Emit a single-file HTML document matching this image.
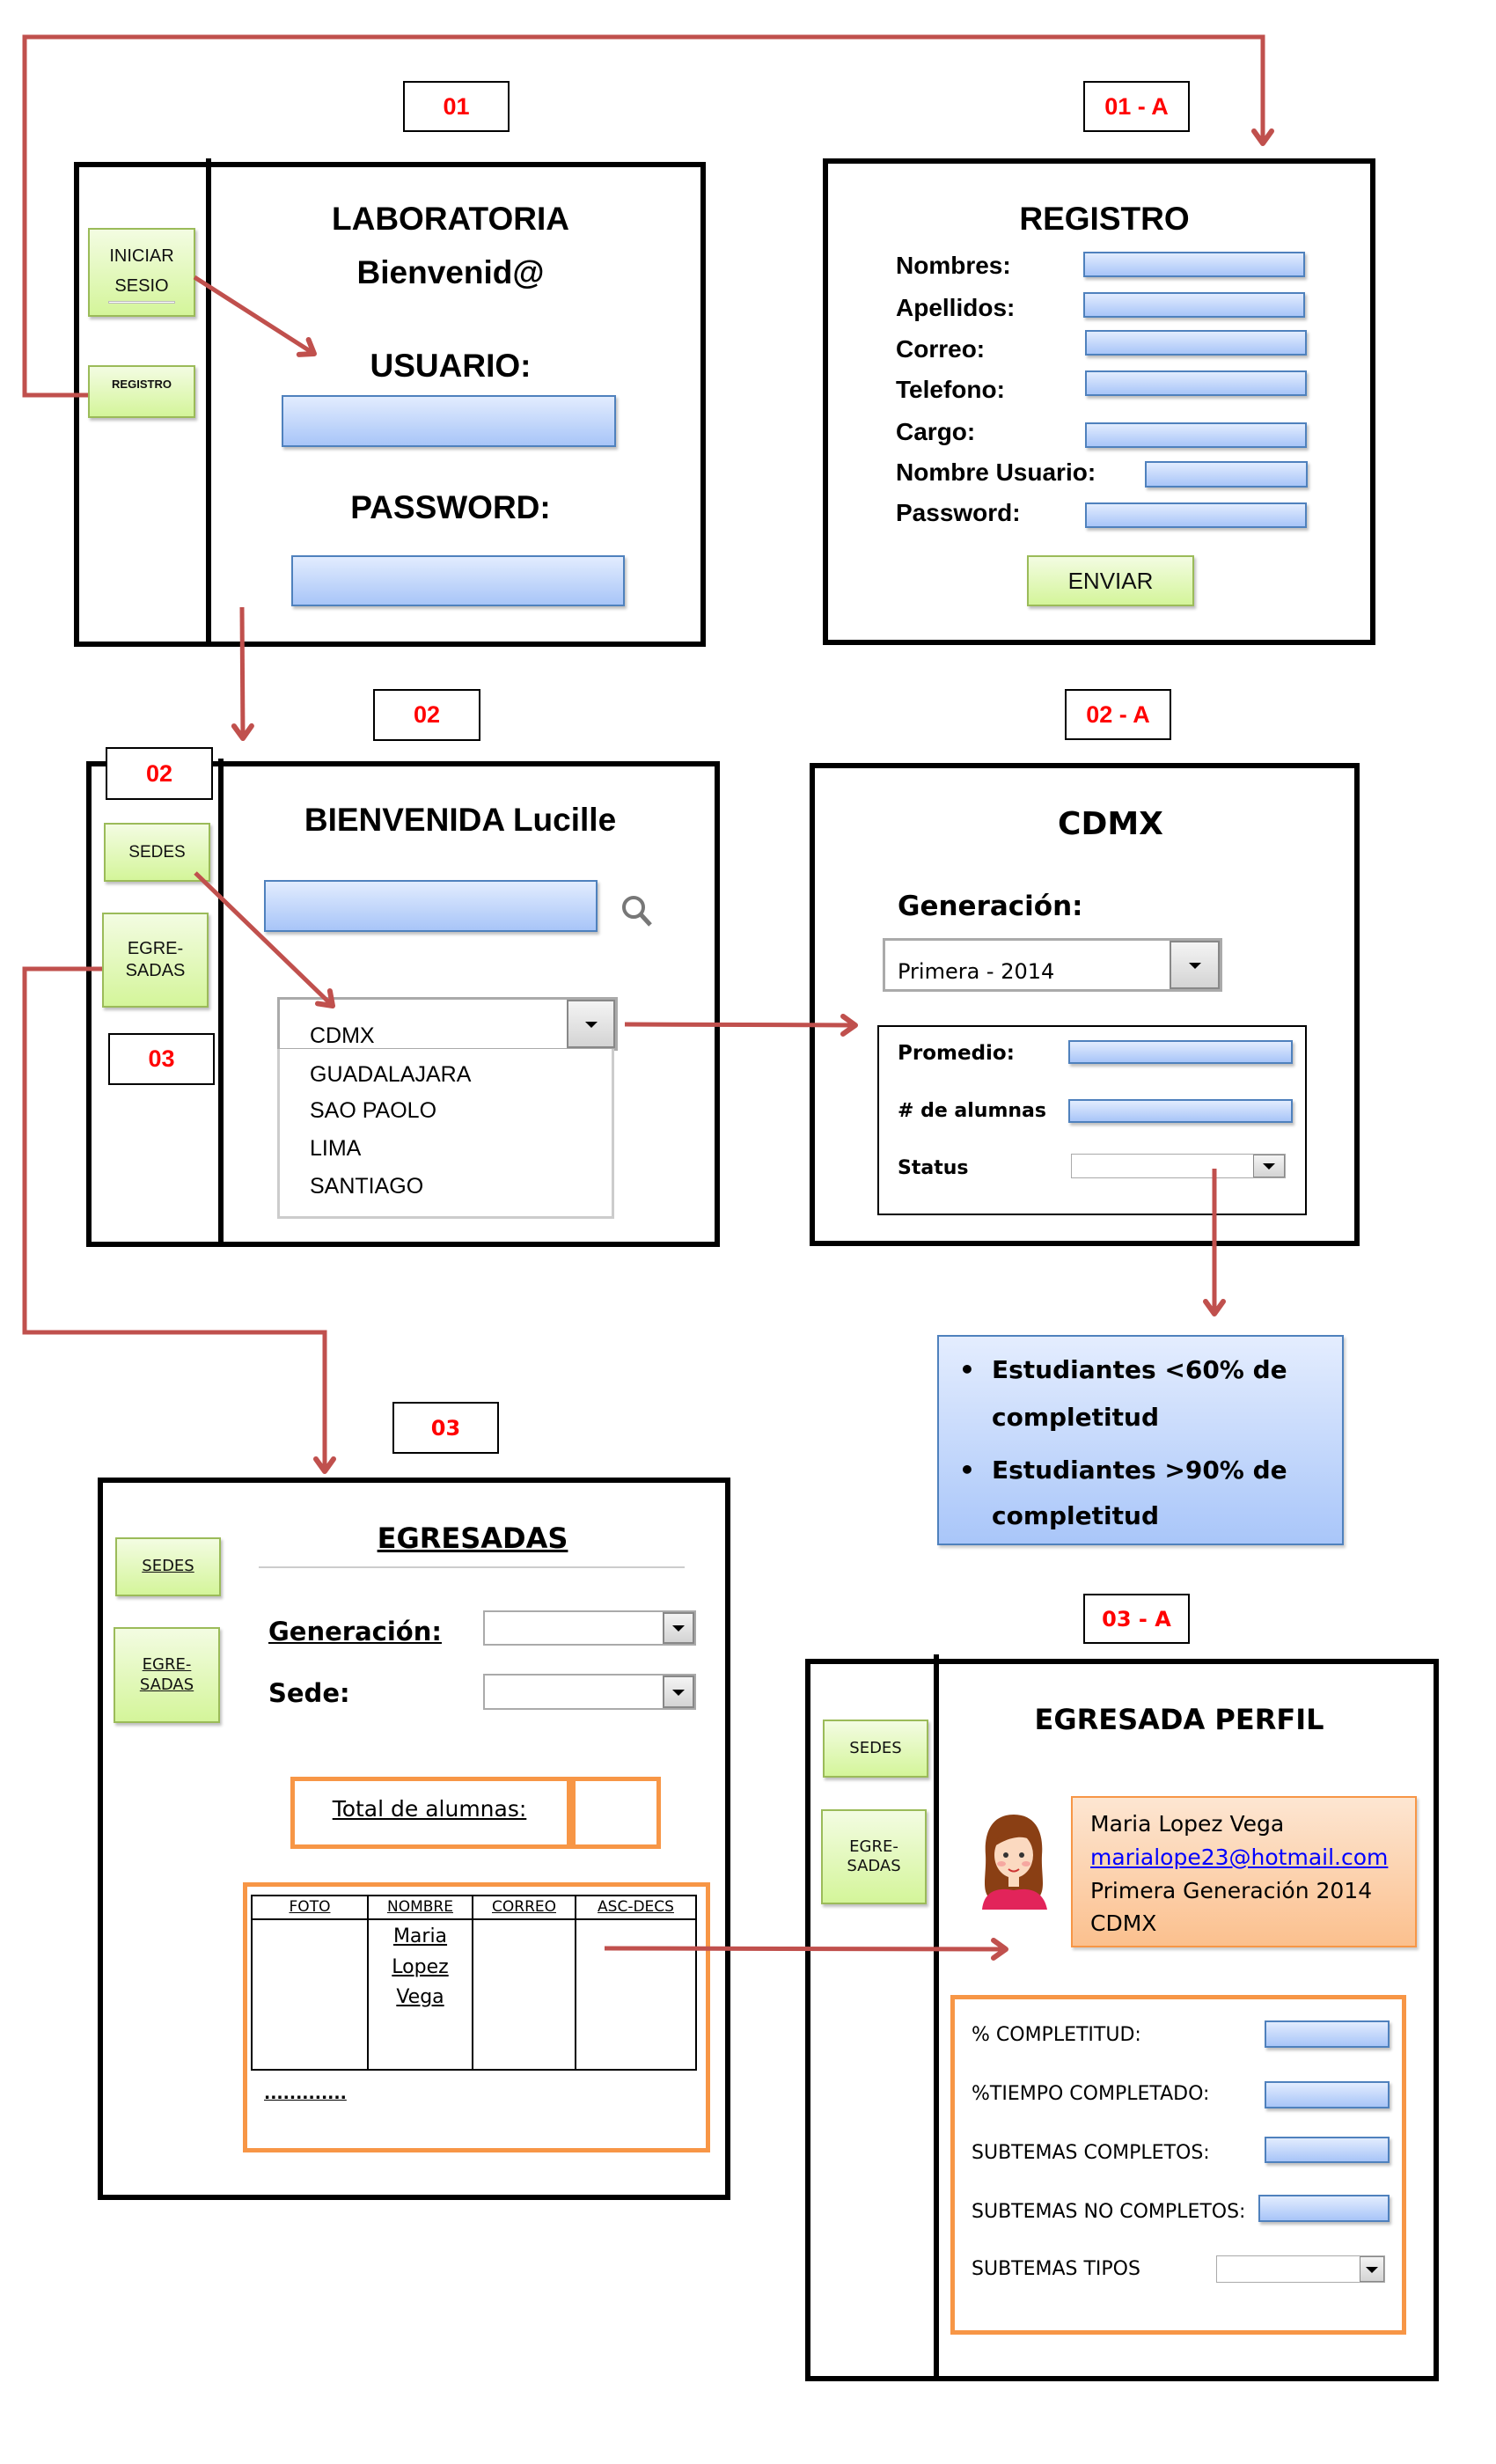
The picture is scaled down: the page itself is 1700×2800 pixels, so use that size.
<!DOCTYPE html>
<html><head><meta charset="utf-8">
<style>
html,body{margin:0;padding:0;background:#fff;}
body{width:1700px;height:2800px;position:relative;overflow:hidden;font-family:"Liberation Sans",sans-serif;}
div{box-sizing:border-box;}
.a{position:absolute;}
.t{position:absolute;line-height:1;white-space:nowrap;}
.frame{position:absolute;border:6px solid #000;}
.vl{position:absolute;width:6px;background:#000;}
.lbl{position:absolute;border:2px solid #000;background:#fff;color:#f00;font-weight:bold;font-size:27px;display:flex;align-items:center;justify-content:center;}
.fld{position:absolute;background:linear-gradient(#e2ecfe,#a8c5f8);border:2px solid #4f81bd;box-shadow:2px 3px 3px rgba(0,0,0,.25);}
.btn{position:absolute;background:linear-gradient(#f3fce2,#d4f59a);border:2px solid #9bbb59;box-shadow:2px 3px 3px rgba(0,0,0,.25);display:flex;flex-direction:column;align-items:center;justify-content:center;text-align:center;line-height:1.25;color:#111;}
.dd{position:absolute;border:2px solid #aaa;background:#fff;}
.ddb{position:absolute;right:0;top:0;bottom:0;background:linear-gradient(#f4f4f4,#d4d4d4);border:2px solid #888;}
.ddb:after{content:"";position:absolute;left:50%;top:50%;margin-left:-7px;margin-top:-3px;border-left:7px solid transparent;border-right:7px solid transparent;border-top:7px solid #000;}
.dv{font-family:"DejaVu Sans",sans-serif;}
.u{text-decoration:underline;}
.c{text-align:center;}
</style></head><body>

<!-- ===== 01 ===== -->
<div class="lbl" style="left:458px;top:92px;width:121px;height:58px;">01</div>
<div class="frame" style="left:84px;top:184px;width:718px;height:551px;"></div>
<div class="vl" style="left:234px;top:180px;height:553px;"></div>
<div class="btn" style="left:100px;top:259px;width:122px;height:101px;font-size:20px;line-height:1.7;">INICIAR<br>SESIO<div style="width:76px;height:3px;border:1px solid #bbb;margin-top:0px;background:#fff"></div></div>
<div class="btn" style="left:100px;top:415px;width:122px;height:60px;font-size:13px;font-weight:bold;justify-content:flex-start;padding-top:12px;">REGISTRO</div>
<div class="t c" style="left:300px;width:424px;top:230px;font-size:37px;font-weight:bold;">LABORATORIA</div>
<div class="t c" style="left:300px;width:424px;top:291px;font-size:37px;font-weight:bold;">Bienvenid@</div>
<div class="t c" style="left:300px;width:424px;top:397px;font-size:37px;font-weight:bold;">USUARIO:</div>
<div class="fld" style="left:320px;top:449px;width:380px;height:59px;"></div>
<div class="t c" style="left:300px;width:424px;top:558px;font-size:37px;font-weight:bold;">PASSWORD:</div>
<div class="fld" style="left:331px;top:631px;width:379px;height:58px;"></div>

<!-- ===== 01-A ===== -->
<div class="lbl" style="left:1231px;top:92px;width:121px;height:58px;">01 - A</div>
<div class="frame" style="left:935px;top:180px;width:628px;height:553px;"></div>
<div class="t c" style="left:1055px;width:400px;top:230px;font-size:37px;font-weight:bold;">REGISTRO</div>
<div class="t" style="left:1018px;top:288px;font-size:28px;font-weight:bold;">Nombres:</div>
<div class="t" style="left:1018px;top:336px;font-size:28px;font-weight:bold;">Apellidos:</div>
<div class="t" style="left:1018px;top:383px;font-size:28px;font-weight:bold;">Correo:</div>
<div class="t" style="left:1018px;top:429px;font-size:28px;font-weight:bold;">Telefono:</div>
<div class="t" style="left:1018px;top:477px;font-size:28px;font-weight:bold;">Cargo:</div>
<div class="t" style="left:1018px;top:523px;font-size:28px;font-weight:bold;">Nombre Usuario:</div>
<div class="t" style="left:1018px;top:569px;font-size:28px;font-weight:bold;">Password:</div>
<div class="fld" style="left:1231px;top:286px;width:252px;height:29px;"></div>
<div class="fld" style="left:1231px;top:332px;width:252px;height:29px;"></div>
<div class="fld" style="left:1233px;top:375px;width:252px;height:29px;"></div>
<div class="fld" style="left:1233px;top:421px;width:252px;height:29px;"></div>
<div class="fld" style="left:1233px;top:480px;width:252px;height:29px;"></div>
<div class="fld" style="left:1301px;top:524px;width:185px;height:30px;"></div>
<div class="fld" style="left:1233px;top:571px;width:252px;height:29px;"></div>
<div class="btn" style="left:1167px;top:631px;width:190px;height:58px;font-size:26px;">ENVIAR</div>

<!-- ===== 02 ===== -->
<div class="lbl" style="left:424px;top:783px;width:122px;height:59px;">02</div>
<div class="frame" style="left:98px;top:865px;width:720px;height:552px;"></div>
<div class="vl" style="left:248px;top:862px;height:553px;"></div>
<div class="lbl" style="left:120px;top:849px;width:122px;height:60px;">02</div>
<div class="btn" style="left:118px;top:935px;width:121px;height:67px;font-size:19px;">SEDES</div>
<div class="btn" style="left:116px;top:1037px;width:121px;height:108px;font-size:20px;">EGRE-<br>SADAS</div>
<div class="lbl" style="left:123px;top:1174px;width:121px;height:59px;">03</div>
<div class="t c" style="left:323px;width:400px;top:913px;font-size:37px;font-weight:bold;">BIENVENIDA Lucille</div>
<div class="fld" style="left:300px;top:1000px;width:379px;height:59px;"></div>
<svg class="a" style="left:703px;top:1014px" width="44" height="44" viewBox="0 0 44 44"><circle cx="17" cy="17" r="11" fill="none" stroke="#777" stroke-width="4"/><line x1="25" y1="25" x2="36" y2="37" stroke="#777" stroke-width="5"/></svg>
<div class="dd" style="left:315px;top:1133px;width:387px;height:61px;border:3px solid #aaa;"><div class="ddb" style="width:55px;"></div></div>
<div class="dd" style="left:315px;top:1192px;width:383px;height:193px;border:3px solid #ccc;border-top:none;"></div>
<div class="t" style="left:352px;top:1165px;font-size:25px;">CDMX</div>
<div class="t" style="left:352px;top:1209px;font-size:25px;">GUADALAJARA</div>
<div class="t" style="left:352px;top:1250px;font-size:25px;">SAO PAOLO</div>
<div class="t" style="left:352px;top:1293px;font-size:25px;">LIMA</div>
<div class="t" style="left:352px;top:1336px;font-size:25px;">SANTIAGO</div>

<!-- ===== 02-A ===== -->
<div class="lbl" style="left:1210px;top:783px;width:121px;height:58px;">02 - A</div>
<div class="frame" style="left:920px;top:867px;width:625px;height:549px;"></div>
<div class="t c dv" style="left:1112px;width:300px;top:919px;font-size:36px;font-weight:bold;">CDMX</div>
<div class="t dv" style="left:1020px;top:1015px;font-size:31px;font-weight:bold;">Generación:</div>
<div class="dd" style="left:1003px;top:1066px;width:386px;height:61px;border:3px solid #aaa;"><div class="ddb" style="width:57px;"></div></div>
<div class="t dv" style="left:1020px;top:1092px;font-size:24px;">Primera - 2014</div>
<div class="a" style="left:997px;top:1165px;width:488px;height:216px;border:2px solid #000;"></div>
<div class="t dv" style="left:1020px;top:1186px;font-size:23px;font-weight:bold;">Promedio:</div>
<div class="t dv" style="left:1020px;top:1252px;font-size:22px;font-weight:bold;"># de alumnas</div>
<div class="t dv" style="left:1020px;top:1317px;font-size:22px;font-weight:bold;">Status</div>
<div class="fld" style="left:1214px;top:1182px;width:255px;height:27px;"></div>
<div class="fld" style="left:1214px;top:1249px;width:255px;height:27px;"></div>
<div class="dd" style="left:1217px;top:1311px;width:244px;height:28px;border:1px solid #aaa;"><div class="ddb" style="width:36px;border-width:1px;"></div></div>
<div class="a" style="left:1065px;top:1517px;width:462px;height:239px;background:linear-gradient(#e4edfe,#a9c6f9);border:2px solid #4f81bd;box-shadow:2px 3px 3px rgba(0,0,0,.2);"></div>
<div class="t dv" style="left:1090px;top:1543px;font-size:28px;font-weight:bold;">•</div>
<div class="t dv" style="left:1127px;top:1543px;font-size:28px;font-weight:bold;">Estudiantes &lt;60% de</div>
<div class="t dv" style="left:1127px;top:1597px;font-size:28px;font-weight:bold;">completitud</div>
<div class="t dv" style="left:1090px;top:1657px;font-size:28px;font-weight:bold;">•</div>
<div class="t dv" style="left:1127px;top:1657px;font-size:28px;font-weight:bold;">Estudiantes &gt;90% de</div>
<div class="t dv" style="left:1127px;top:1709px;font-size:28px;font-weight:bold;">completitud</div>

<!-- ===== 03 ===== -->
<div class="lbl dv" style="left:446px;top:1593px;width:121px;height:59px;font-size:24px;">03</div>
<div class="frame" style="left:111px;top:1679px;width:719px;height:821px;"></div>
<div class="btn dv u" style="left:131px;top:1747px;width:120px;height:67px;font-size:18px;">SEDES</div>
<div class="btn dv u" style="left:129px;top:1849px;width:121px;height:109px;font-size:18px;">EGRE-<br>SADAS</div>
<div class="t c dv u" style="left:387px;width:300px;top:1732px;font-size:32px;font-weight:bold;">EGRESADAS</div>
<div class="a" style="left:294px;top:1780px;width:484px;height:2px;background:#ccc;"></div>
<div class="t dv u" style="left:305px;top:1840px;font-size:29px;font-weight:bold;">Generación:</div>
<div class="t dv" style="left:305px;top:1910px;font-size:29px;font-weight:bold;">Sede:</div>
<div class="dd" style="left:549px;top:1830px;width:242px;height:40px;"><div class="ddb" style="width:36px;"></div></div>
<div class="dd" style="left:549px;top:1902px;width:242px;height:41px;"><div class="ddb" style="width:36px;"></div></div>
<div class="a" style="left:330px;top:2019px;width:319px;height:82px;border:5px solid #f79646;"></div>
<div class="a" style="left:649px;top:2019px;width:102px;height:82px;border:5px solid #f79646;"></div>
<div class="t c dv u" style="left:338px;width:300px;top:2043px;font-size:25px;">Total de alumnas:</div>
<div class="a" style="left:276px;top:2139px;width:531px;height:307px;border:5px solid #f79646;"></div>
<div class="a" style="left:285px;top:2153px;width:507px;height:200px;border:2px solid #000;"></div>
<div class="a" style="left:285px;top:2180px;width:507px;height:2px;background:#000;"></div>
<div class="a" style="left:417px;top:2153px;width:2px;height:200px;background:#000;"></div>
<div class="a" style="left:536px;top:2153px;width:2px;height:200px;background:#000;"></div>
<div class="a" style="left:653px;top:2153px;width:2px;height:200px;background:#000;"></div>
<div class="t c dv u" style="left:287px;width:130px;top:2159px;font-size:17px;">FOTO</div>
<div class="t c dv u" style="left:419px;width:117px;top:2159px;font-size:17px;">NOMBRE</div>
<div class="t c dv u" style="left:538px;width:115px;top:2159px;font-size:17px;">CORREO</div>
<div class="t c dv u" style="left:655px;width:135px;top:2159px;font-size:17px;">ASC-DECS</div>
<div class="t c dv u" style="left:419px;width:117px;top:2190px;font-size:22px;">Maria</div>
<div class="t c dv u" style="left:419px;width:117px;top:2225px;font-size:22px;">Lopez</div>
<div class="t c dv u" style="left:419px;width:117px;top:2259px;font-size:22px;">Vega</div>
<div class="t dv u" style="left:300px;top:2370px;font-size:19px;font-weight:bold;">.............</div>

<!-- ===== 03-A ===== -->
<div class="lbl dv" style="left:1231px;top:1811px;width:121px;height:57px;font-size:24px;">03 - A</div>
<div class="frame" style="left:915px;top:1885px;width:720px;height:821px;"></div>
<div class="vl" style="left:1061px;top:1880px;height:824px;"></div>
<div class="btn dv" style="left:935px;top:1954px;width:120px;height:66px;font-size:18px;">SEDES</div>
<div class="btn dv" style="left:933px;top:2056px;width:120px;height:108px;font-size:18px;">EGRE-<br>SADAS</div>
<div class="t c dv" style="left:1140px;width:400px;top:1938px;font-size:32px;font-weight:bold;">EGRESADA PERFIL</div>
<svg class="a" style="left:1112px;top:2058px" width="80" height="112" viewBox="0 0 80 112">
<path d="M40 4 C14 4 6 26 8 50 C9 70 4 86 10 96 L70 96 C76 86 71 70 72 50 C74 26 66 4 40 4Z" fill="#8a3f14"/>
<ellipse cx="40" cy="50" rx="22" ry="26" fill="#fbd9c0"/>
<path d="M18 40 C22 20 50 14 64 36 C56 28 40 26 18 40Z" fill="#8a3f14"/>
<circle cx="31" cy="50" r="3" fill="#333"/><circle cx="49" cy="50" r="3" fill="#333"/>
<ellipse cx="26" cy="60" rx="5" ry="3" fill="#f6a7a0"/><ellipse cx="54" cy="60" rx="5" ry="3" fill="#f6a7a0"/>
<path d="M34 66 Q40 71 46 66" stroke="#c33" stroke-width="2" fill="none"/>
<rect x="34" y="74" width="12" height="12" fill="#fbd9c0"/>
<path d="M4 112 C6 92 20 86 40 90 C60 86 74 92 78 112Z" fill="#e2245a"/>
</svg>
<div class="a" style="left:1217px;top:2041px;width:393px;height:172px;background:linear-gradient(#fde6d2,#fbc08e);border:2px solid #f79646;box-shadow:2px 3px 3px rgba(0,0,0,.2);"></div>
<div class="t dv" style="left:1239px;top:2060px;font-size:25px;">Maria Lopez Vega</div>
<div class="t dv u" style="left:1239px;top:2098px;font-size:25px;color:#00f;">marialope23@hotmail.com</div>
<div class="t dv" style="left:1239px;top:2136px;font-size:25px;">Primera Generación 2014</div>
<div class="t dv" style="left:1239px;top:2173px;font-size:25px;">CDMX</div>
<div class="a" style="left:1080px;top:2267px;width:518px;height:386px;border:5px solid #f79646;"></div>
<div class="t dv" style="left:1104px;top:2302px;font-size:22px;">% COMPLETITUD:</div>
<div class="t dv" style="left:1104px;top:2369px;font-size:22px;">%TIEMPO COMPLETADO:</div>
<div class="t dv" style="left:1104px;top:2436px;font-size:22px;">SUBTEMAS COMPLETOS:</div>
<div class="t dv" style="left:1104px;top:2503px;font-size:22px;">SUBTEMAS NO COMPLETOS:</div>
<div class="t dv" style="left:1104px;top:2568px;font-size:22px;">SUBTEMAS TIPOS</div>
<div class="fld" style="left:1437px;top:2296px;width:142px;height:31px;"></div>
<div class="fld" style="left:1437px;top:2365px;width:142px;height:31px;"></div>
<div class="fld" style="left:1437px;top:2428px;width:142px;height:30px;"></div>
<div class="fld" style="left:1430px;top:2494px;width:149px;height:31px;"></div>
<div class="dd" style="left:1382px;top:2563px;width:192px;height:31px;border:1px solid #aaa;"><div class="ddb" style="width:28px;border-width:1px;"></div></div>

<!-- ===== connectors ===== -->
<svg class="a" style="left:0;top:0" width="1700" height="2800" viewBox="0 0 1700 2800">
<defs>
<marker id="ar" markerUnits="userSpaceOnUse" markerWidth="30" markerHeight="30" refX="18" refY="15" orient="auto">
<path d="M4 5 L18 15 L4 25" fill="none" stroke="#c0504d" stroke-width="6" stroke-linecap="round" stroke-linejoin="round"/>
</marker>
</defs>
<g fill="none" stroke="#c0504d" stroke-width="5">
<polyline points="100,449 28,449 28,42 1435,42 1435,163" marker-end="url(#ar)"/>
<line x1="221" y1="315" x2="357" y2="402" marker-end="url(#ar)"/>
<line x1="275" y1="690" x2="276" y2="839" marker-end="url(#ar)"/>
<line x1="222" y1="992" x2="378" y2="1143" marker-end="url(#ar)"/>
<line x1="710" y1="1164" x2="972" y2="1165" marker-end="url(#ar)"/>
<polyline points="116,1101 28,1101 28,1514 369,1514 369,1672" marker-end="url(#ar)"/>
<line x1="1380" y1="1328" x2="1380" y2="1493" marker-end="url(#ar)"/>
<line x1="687" y1="2214" x2="1143" y2="2215" marker-end="url(#ar)"/>
</g>
</svg>
</body></html>
